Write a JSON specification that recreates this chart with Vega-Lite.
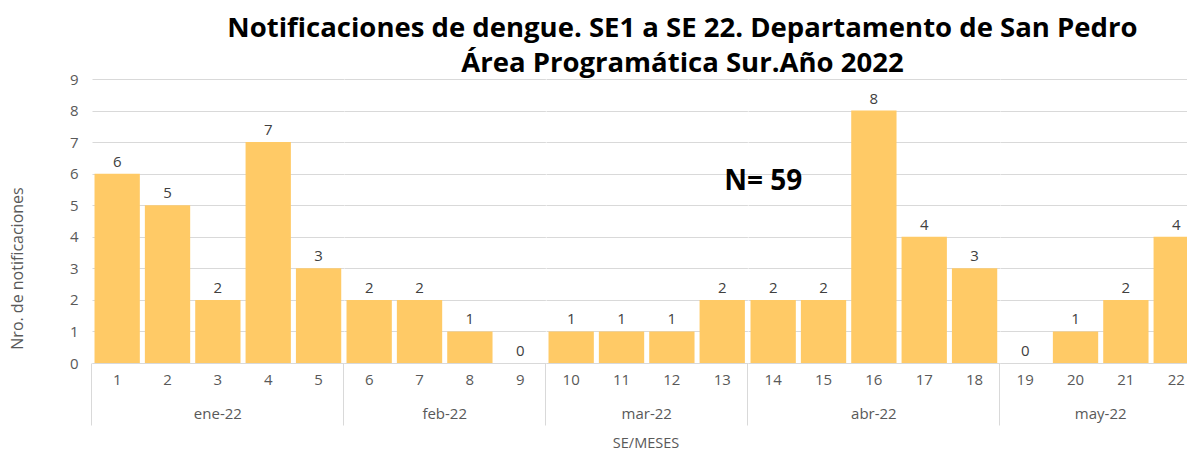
{
  "$schema": "https://vega.github.io/schema/vega-lite/v6.json",
  "padding": {"left": 9, "top": 14, "right": 0, "bottom": 0},
  "background": "white",
  "bounds": "flush",
  "config": {
    "view": {"stroke": null},
    "font": "Open Sans",
    "axis": {"labelFont": "Open Sans", "titleFont": "Open Sans", "labelFontSize": 15, "labelColor": "#595959"},
    "axisY": {
      "domain": false,
      "ticks": false,
      "gridColor": "#d9d9d9",
      "labelPadding": 14,
      "titleFontSize": 16,
      "titleFontWeight": "normal",
      "titleColor": "#595959",
      "titlePadding": 44
    },
    "header": {"labelFont": "Open Sans", "titleFont": "Open Sans"}
  },
  "title": {
    "text": ["Notificaciones de dengue. SE1 a SE 22. Departamento de San Pedro", "Área Programática Sur.Año 2022"],
    "fontSize": 27.5,
    "fontWeight": "bold",
    "color": "#000000",
    "lineHeight": 35,
    "anchor": "middle",
    "offset": -5,
    "dx": 77
  },
  "data": {
    "values": [
      {"semana": 1, "mes": "ene-22", "casos": 6},
      {"semana": 2, "mes": "ene-22", "casos": 5},
      {"semana": 3, "mes": "ene-22", "casos": 2},
      {"semana": 4, "mes": "ene-22", "casos": 7},
      {"semana": 5, "mes": "ene-22", "casos": 3},
      {"semana": 6, "mes": "feb-22", "casos": 2},
      {"semana": 7, "mes": "feb-22", "casos": 2},
      {"semana": 8, "mes": "feb-22", "casos": 1},
      {"semana": 9, "mes": "feb-22", "casos": 0},
      {"semana": 10, "mes": "mar-22", "casos": 1},
      {"semana": 11, "mes": "mar-22", "casos": 1},
      {"semana": 12, "mes": "mar-22", "casos": 1},
      {"semana": 13, "mes": "mar-22", "casos": 2},
      {"semana": 14, "mes": "abr-22", "casos": 2, "nota": "N= 59"},
      {"semana": 15, "mes": "abr-22", "casos": 2},
      {"semana": 16, "mes": "abr-22", "casos": 8},
      {"semana": 17, "mes": "abr-22", "casos": 4},
      {"semana": 18, "mes": "abr-22", "casos": 3},
      {"semana": 19, "mes": "may-22", "casos": 0},
      {"semana": 20, "mes": "may-22", "casos": 1},
      {"semana": 21, "mes": "may-22", "casos": 2},
      {"semana": 22, "mes": "may-22", "casos": 4}
    ]
  },
  "facet": {
    "column": {
      "field": "mes",
      "type": "ordinal",
      "sort": ["ene-22", "feb-22", "mar-22", "abr-22", "may-22"],
      "title": "SE/MESES",
      "header": {
        "labelOrient": "bottom",
        "labelFontSize": 15,
        "labelColor": "#595959",
        "labelPadding": 44,
        "titleOrient": "bottom",
        "titleFontSize": 14.5,
        "titleFontWeight": "normal",
        "titleColor": "#595959",
        "titlePadding": 5
      }
    }
  },
  "spacing": 0,
  "resolve": {"scale": {"x": "independent"}},
  "spec": {
    "width": {"step": 50.35},
    "height": 284,
    "encoding": {
      "x": {
        "field": "semana",
        "type": "ordinal",
        "title": null,
        "scale": {"paddingInner": 0.1, "paddingOuter": 0.05},
        "axis": {
          "labelAngle": 0,
          "labelPadding": -53,
          "domainColor": "#d9d9d9",
          "tickColor": "#d9d9d9",
          "tickSize": 62,
          "bandPosition": -0.0556,
          "tickOpacity": {"condition": {"test": "datum.value == 1 || datum.value == 6 || datum.value == 10 || datum.value == 14 || datum.value == 19", "value": 1}, "value": 0}
        }
      },
      "y": {
        "field": "casos",
        "type": "quantitative",
        "title": "Nro. de notificaciones",
        "scale": {"domain": [0, 9], "nice": false},
        "axis": {"values": [0, 1, 2, 3, 4, 5, 6, 7, 8, 9], "titleY": 189}
      }
    },
    "layer": [
      {
        "mark": {"type": "bar", "color": "#FFCA66"}
      },
      {
        "mark": {"type": "text", "fontSize": 15, "color": "#404040", "dy": -12},
        "encoding": {
          "text": {"field": "casos", "type": "quantitative"}
        }
      },
      {
        "transform": [{"filter": "datum.nota != null"}],
        "mark": {"type": "text", "fontSize": 28, "fontWeight": "bold", "color": "#000000", "dx": -10},
        "encoding": {
          "y": {"datum": 5.75},
          "text": {"field": "nota"}
        }
      }
    ]
  }
}
